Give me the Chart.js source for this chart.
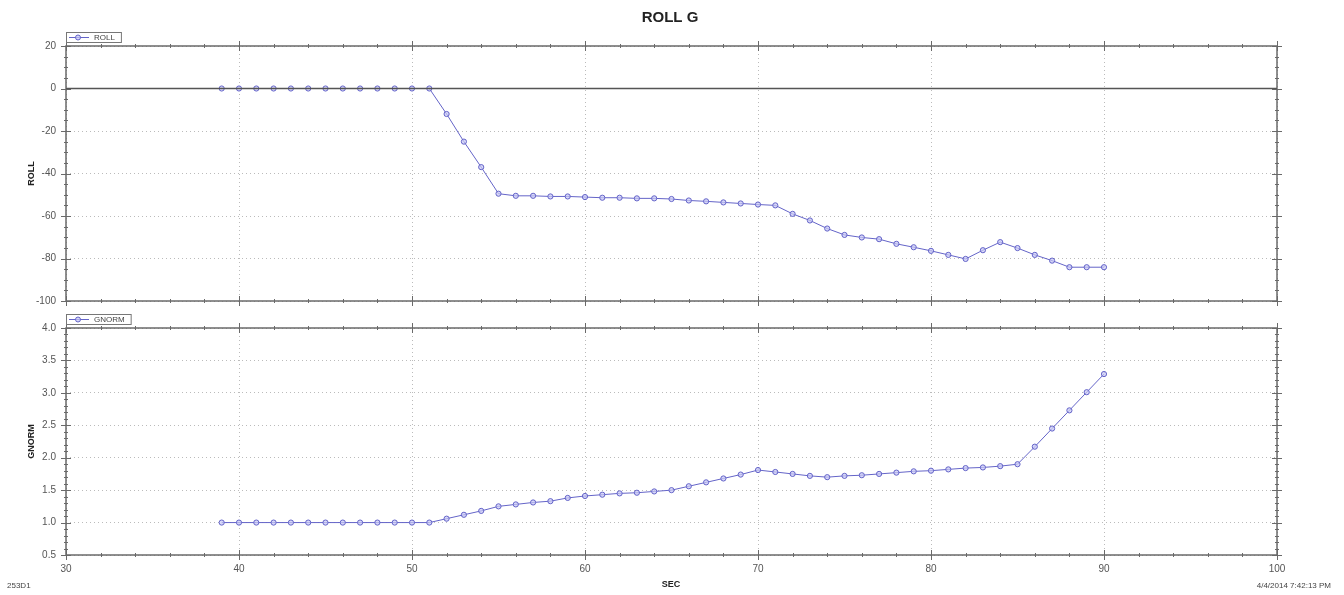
<!DOCTYPE html>
<html>
<head>
<meta charset="utf-8">
<script src="https://cdn.jsdelivr.net/npm/chart.js@4.4.0/dist/chart.umd.min.js"></script>
<style>
  body { margin: 0; background: #fff; }
  #wrap { position: relative; width: 1344px; height: 595px; }
  .box { position: absolute; left: 0; width: 1344px; }
  #topBox { top: 0; height: 317px; }
  #botBox { top: 310px; height: 285px; }
</style>
</head>
<body>
<div id="wrap">
  <div class="box" id="topBox"><canvas id="rollChart"></canvas></div>
  <div class="box" id="botBox"><canvas id="gnormChart"></canvas></div>
</div>
<script>
const sec = [39, 40, 41, 42, 43, 44, 45, 46, 47, 48, 49, 50, 51, 52, 53, 54, 55, 56, 57, 58, 59, 60,
  61, 62, 63, 64, 65, 66, 67, 68, 69, 70, 71, 72, 73, 74, 75, 76, 77, 78, 79, 80,
  81, 82, 83, 84, 85, 86, 87, 88, 89, 90];

const roll = [0, 0, 0, 0, 0, 0, 0, 0, 0, 0, 0, 0, 0, -12, -25, -37, -49.5, -50.5, -50.5, -50.8, -50.8, -51.1,
  -51.4, -51.4, -51.7, -51.7, -52, -52.7, -53.1, -53.6, -54.1, -54.6, -55, -59, -62.1, -65.9, -68.9, -70.1,
  -70.9, -73.1, -74.7, -76.4, -78.3, -80.2, -76.1, -72.3, -75.1, -78.3, -81, -84.1, -84.1, -84.1];

const gnorm = [1, 1, 1, 1, 1, 1, 1, 1, 1, 1, 1, 1, 1, 1.06, 1.12, 1.18, 1.25, 1.28, 1.31, 1.33, 1.38, 1.41,
  1.43, 1.45, 1.46, 1.48, 1.5, 1.56, 1.62, 1.68, 1.74, 1.81, 1.78, 1.75, 1.72, 1.7, 1.72, 1.73,
  1.75, 1.77, 1.79, 1.8, 1.82, 1.84, 1.85, 1.87, 1.9, 2.17, 2.45, 2.73, 3.01, 3.29];

const xTicks = [30, 40, 50, 60, 70, 80, 90, 100];
const rollTicks = [20, 0, -20, -40, -60, -80, -100];
const gnormTicks = [4.0, 3.5, 3.0, 2.5, 2.0, 1.5, 1.0, 0.5];

const lineColor = "rgb(100,100,200)";
const markFill = "rgba(200,200,245,0.7)";
const axisColor = "#6a6a6a";
const font = "Liberation Sans, Arial, sans-serif";

// minor tick marks, frame, legend box and page texts, placed through the chart's scales
const frame = {
  id: "frame",
  afterDraw(chart, args, opts) {
    const ctx = chart.ctx;
    const a = chart.chartArea;
    const xs = chart.scales.x, ys = chart.scales.y;
    ctx.save();
    ctx.strokeStyle = axisColor;
    ctx.lineWidth = 1;
    for (let v = xs.min; v <= xs.max + 1e-9; v += 2) {
      const px = Math.round(xs.getPixelForValue(v)) + 0.5;
      const len = v % 10 === 0 ? 5 : 2;
      ctx.beginPath();
      ctx.moveTo(px, a.top - len); ctx.lineTo(px, a.top + len);
      ctx.moveTo(px, a.bottom - len); ctx.lineTo(px, a.bottom + len);
      ctx.stroke();
    }
    const step = opts.minor;
    const n = Math.round((ys.max - ys.min) / step);
    for (let i = 0; i <= n; i++) {
      const v = ys.min + i * step;
      const py = Math.round(ys.getPixelForValue(v)) + 0.5;
      const len = i % opts.every === 0 ? 5 : 2;
      ctx.beginPath();
      ctx.moveTo(a.left - len, py); ctx.lineTo(a.left + len, py);
      ctx.moveTo(a.right - len, py); ctx.lineTo(a.right + len, py);
      ctx.stroke();
    }
    ctx.lineWidth = 1.5;
    ctx.strokeRect(a.left, a.top, a.right - a.left, a.bottom - a.top);
    if (opts.zero) {
      const zy = ys.getPixelForValue(0);
      ctx.strokeStyle = "#555";
      ctx.beginPath(); ctx.moveTo(a.left, zy); ctx.lineTo(a.right, zy); ctx.stroke();
    }
    // legend box
    const lx = a.left, ly = a.top - 14;
    ctx.font = "8px " + font;
    const tw = ctx.measureText(opts.label).width;
    ctx.lineWidth = 1;
    ctx.strokeStyle = "#777";
    ctx.strokeRect(lx + 0.5, ly + 0.5, tw + 34, 10);
    ctx.strokeStyle = lineColor;
    ctx.beginPath(); ctx.moveTo(lx + 3, ly + 5.5); ctx.lineTo(lx + 23, ly + 5.5); ctx.stroke();
    ctx.fillStyle = markFill;
    ctx.beginPath(); ctx.arc(lx + 12, ly + 5.5, 2.5, 0, Math.PI * 2); ctx.fill(); ctx.stroke();
    ctx.fillStyle = "#444";
    ctx.textBaseline = "middle";
    ctx.fillText(opts.label, lx + 28, ly + 6);
    // y axis title
    ctx.save();
    ctx.font = "bold 9px " + font;
    ctx.fillStyle = "#222";
    ctx.textAlign = "center";
    ctx.translate(32, (a.top + a.bottom) / 2);
    ctx.rotate(-Math.PI / 2);
    ctx.fillText(opts.label, 0, 0);
    ctx.restore();
    // page texts
    ctx.textAlign = "center";
    ctx.fillStyle = "#222";
    if (opts.title) {
      ctx.font = "bold 15px " + font;
      ctx.fillText(opts.title, 670, 18);
    }
    if (opts.footer) {
      ctx.font = "bold 9px " + font;
      ctx.fillText("SEC", 671, chart.height - 10);
      ctx.font = "8px " + font;
      ctx.fillStyle = "#444";
      ctx.textAlign = "left";
      ctx.fillText("253D1", 7, chart.height - 9);
      ctx.textAlign = "right";
      ctx.fillText("4/4/2014 7:42:13 PM", 1331, chart.height - 9);
    }
    ctx.restore();
  }
};

function makeChart(id, values, yTicks, opts) {
  const yMin = Math.min(...yTicks), yMax = Math.max(...yTicks);
  return new Chart(document.getElementById(id), {
    type: "line",
    data: {
      datasets: [{
        label: opts.label,
        data: sec.map((s, i) => ({ x: s, y: values[i] })),
        borderColor: lineColor,
        borderWidth: 1,
        pointRadius: 2.6,
        pointBorderWidth: 1,
        pointBackgroundColor: markFill,
        pointBorderColor: lineColor,
        tension: 0
      }]
    },
    options: {
      responsive: true,
      maintainAspectRatio: false,
      animation: false,
      layout: { padding: opts.padding },
      plugins: {
        legend: { display: false },
        tooltip: { enabled: false },
        frame: opts
      },
      scales: {
        x: {
          type: "linear",
          min: 30, max: 100,
          afterBuildTicks: s => { s.ticks = xTicks.map(v => ({ value: v })); },
          grid: { color: "#bbb", drawTicks: false },
          border: { display: false, dash: [1, 3] },
          ticks: {
            display: opts.showX,
            padding: 8,
            color: "#555",
            font: { family: font, size: 10 }
          },
          afterFit: s => { s.height = opts.xHeight; }
        },
        y: {
          min: yMin, max: yMax,
          afterBuildTicks: s => { s.ticks = yTicks.map(v => ({ value: v })); },
          grid: { color: "#bbb", drawTicks: false },
          border: { display: false, dash: [1, 3] },
          ticks: {
            padding: 10,
            color: "#555",
            font: { family: font, size: 10 },
            callback: v => opts.fmt(v)
          },
          afterFit: s => { s.width = 56; }
        }
      }
    },
    plugins: [frame]
  });
}

makeChart("rollChart", roll, rollTicks, {
  label: "ROLL", minor: 5, every: 4, zero: true, title: "ROLL G",
  showX: false, xHeight: 0,
  padding: { left: 10, right: 67, top: 46, bottom: 1 },
  fmt: v => String(v)
});

makeChart("gnormChart", gnorm, gnormTicks, {
  label: "GNORM", minor: 0.1, every: 5, zero: false, footer: true,
  showX: true, xHeight: 40,
  padding: { left: 10, right: 67, top: 18, bottom: 0 },
  fmt: v => v.toFixed(1)
});
</script>
</body>
</html>
